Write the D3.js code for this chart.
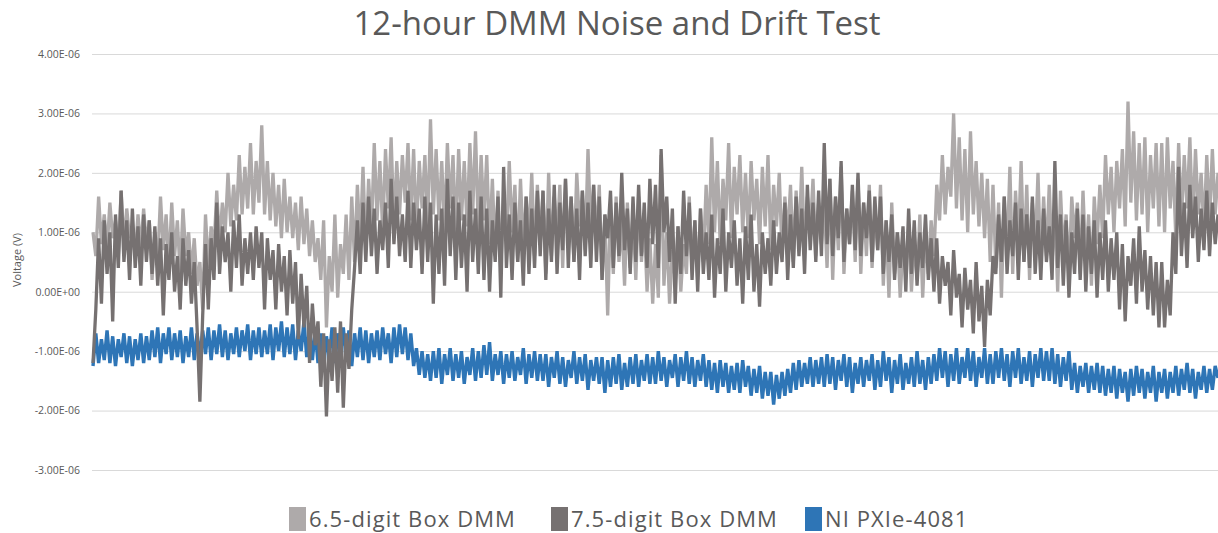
<!DOCTYPE html>
<html>
<head>
<meta charset="utf-8">
<script src="https://cdn.jsdelivr.net/npm/d3@7"></script>
<style>
  body { margin: 0; background: #fff; }
  text { font-family: "Open Sans", "DejaVu Sans", sans-serif; }
</style>
</head>
<body>
<div id="chart"></div>
<script>
// series names and colours
var seriesNames = ["6.5-digit Box DMM", "7.5-digit Box DMM", "NI PXIe-4081"];
var seriesColors = ["#aeaaaa", "#767171", "#2e75b6"];

// y axis ticks
var yTicks = [-3e-6, -2e-6, -1e-6, 0, 1e-6, 2e-6, 3e-6, 4e-6];
var yTickLabels = ["-3.00E-06", "-2.00E-06", "-1.00E-06", "0.00E+00", "1.00E-06", "2.00E-06", "3.00E-06", "4.00E-06"];

// readings in microvolts, evenly spaced over the 12 hours
var box65 = [
  1.0,0.6,1.6,0.8,1.3,0.7,1.5,0.9,1.2,0.6,1.7,0.8,1.4,0.9,1.1,0.6,1.3,0.7,1.4,0.8,
  1.2,0.2,1.0,0.5,1.6,0.7,1.3,0.4,1.5,0.6,1.2,0.3,1.4,0.6,1.0,0.3,0.9,0.1,0.5,-0.3,
  1.3,0.4,1.1,0.7,1.7,0.8,1.5,1.0,2.0,1.1,1.8,1.2,2.3,1.3,2.1,1.4,2.5,1.3,2.2,1.5,
  2.8,1.3,2.2,1.2,2.0,1.1,1.8,0.9,1.9,1.0,1.6,0.9,1.5,0.7,1.6,0.8,1.4,0.6,1.2,0.5,
  0.9,0.2,1.2,-0.6,0.6,0.0,1.3,-0.1,0.8,0.3,1.3,0.2,1.6,0.5,1.8,0.8,2.1,0.7,1.9,1.0,
  2.5,1.2,2.2,1.0,2.4,1.4,2.6,1.1,2.2,1.3,2.3,1.5,2.5,1.2,2.4,1.0,2.2,1.4,2.3,1.1,
  2.9,1.3,2.4,1.2,2.2,1.0,2.5,1.4,2.3,0.9,2.4,1.2,2.2,1.1,2.5,1.3,2.7,1.0,2.3,1.2,
  2.3,0.8,1.9,0.6,1.7,0.4,1.6,0.9,2.2,1.0,1.8,0.5,1.9,0.7,1.6,0.9,2.0,0.6,1.8,0.8,
  1.7,0.3,2.0,0.6,1.6,0.9,1.8,0.4,1.9,0.8,1.6,0.5,2.0,1.1,1.7,0.7,2.4,1.0,1.8,0.9,
  1.8,0.2,1.3,-0.4,1.4,0.3,1.6,0.5,1.2,0.1,1.5,0.4,1.3,0.2,1.6,0.5,1.2,0.0,0.9,-0.2,
  0.8,-0.1,2.3,0.1,1.0,-0.2,0.7,0.2,1.1,0.0,0.8,0.3,1.6,0.4,1.2,0.2,1.4,0.5,1.8,0.8,
  2.6,1.0,2.2,0.8,1.9,1.2,2.5,0.9,2.1,1.3,2.3,1.0,2.0,0.9,2.2,1.2,1.9,0.8,2.1,1.1,
  2.3,0.7,1.8,1.1,2.0,0.6,1.6,0.9,1.8,0.5,1.7,0.8,2.1,0.7,1.6,1.0,1.9,0.6,1.5,0.8,
  1.5,0.4,1.9,0.2,1.6,0.7,2.1,0.3,1.4,0.8,1.7,0.5,1.9,0.3,1.5,0.6,1.8,0.4,1.4,0.7,
  1.8,0.1,1.2,-0.1,1.5,0.3,1.0,-0.1,0.8,0.4,1.1,0.0,0.9,0.2,1.3,-0.1,1.0,0.3,1.2,0.6,
  1.8,1.2,2.3,1.3,2.1,1.6,3.0,1.4,2.6,1.2,2.4,1.0,2.7,1.3,2.2,1.1,2.0,0.9,1.9,0.5,
  1.8,0.4,1.5,-0.1,1.6,0.6,2.1,0.3,1.7,0.8,2.2,0.5,1.8,0.2,1.5,0.7,2.0,0.4,1.6,0.6,
  1.8,0.5,1.4,0.0,1.7,0.6,1.3,0.2,1.6,0.9,1.5,0.3,1.7,0.5,1.3,0.1,1.6,0.8,1.8,0.9,
  2.3,1.3,2.1,1.0,2.2,1.4,2.4,1.1,3.2,1.5,2.7,1.2,2.5,1.3,2.6,1.0,2.3,1.4,2.5,1.1,
  2.5,1.0,2.6,1.4,2.2,0.9,2.5,1.2,2.3,1.4,2.6,1.1,2.4,1.3,2.0,1.0,2.3,1.2,2.4,1.3,2.0
];
var box75 = [
  -1.2,-0.3,0.9,-0.2,1.2,0.3,1.0,-0.5,1.3,0.4,1.7,0.5,1.2,0.2,1.4,0.4,1.1,0.1,1.3,0.5,
  1.2,0.3,1.1,0.1,0.9,-0.4,0.8,0.2,1.0,0.0,0.6,-0.3,0.9,0.1,0.7,-0.2,0.5,-0.6,-1.85,-0.4,
  0.8,-0.3,0.9,0.2,1.5,0.3,1.1,0.5,1.0,0.0,1.2,0.4,1.3,0.1,0.9,0.3,1.0,0.2,1.1,0.4,
  1.0,-0.3,0.9,0.2,0.7,-0.3,0.8,0.0,0.6,-0.4,0.7,-0.2,0.5,-0.8,0.3,-0.6,0.1,-1.2,-0.2,-0.9,
  -0.5,-1.6,-0.7,-2.1,-0.8,-1.5,-0.6,-1.7,-0.5,-1.95,-0.7,-1.3,-0.3,0.4,1.2,0.3,1.5,0.5,1.6,0.6,
  1.4,0.3,1.2,0.7,1.5,0.4,1.9,0.8,1.6,0.6,1.3,0.5,1.7,0.4,1.5,0.7,1.4,0.3,1.6,0.5,
  1.5,-0.2,1.3,0.3,1.4,0.1,1.9,0.6,1.6,0.2,1.5,0.4,1.3,0.0,1.7,0.5,1.4,0.3,1.6,0.2,
  1.4,0.0,1.2,0.5,1.6,-0.1,2.1,0.4,1.3,0.2,1.5,0.5,1.2,0.1,1.6,0.3,1.4,0.4,1.7,0.6,
  1.7,0.2,1.4,0.5,1.8,0.3,1.5,0.7,1.9,0.4,1.6,0.5,1.4,0.2,1.7,0.6,1.5,0.4,1.8,0.5,
  1.6,0.2,1.3,0.9,1.7,0.4,1.5,0.6,2.0,0.7,1.4,0.3,1.6,0.5,1.8,0.6,1.5,0.4,1.9,0.8,
  1.8,0.4,2.4,1.0,1.6,0.5,1.4,-0.2,1.1,0.3,1.7,0.6,1.5,0.2,1.2,0.0,1.4,0.3,1.0,0.2,
  1.3,-0.1,0.9,0.3,1.4,0.0,1.0,0.4,1.2,0.1,0.9,-0.2,1.1,0.2,1.3,0.0,0.8,-0.25,1.0,0.3,
  0.9,0.1,1.2,0.3,1.0,0.5,1.5,0.2,1.3,0.4,1.6,0.6,1.4,0.3,1.8,0.7,1.5,0.5,1.7,0.6,
  2.5,0.8,1.9,0.6,1.6,0.9,2.2,0.5,1.4,0.8,1.8,0.7,2.0,0.6,1.5,0.9,1.7,0.5,1.6,0.7,
  1.6,0.3,1.2,0.5,1.3,0.2,1.0,0.4,1.1,0.0,1.4,0.3,1.2,0.1,1.0,0.4,1.3,0.2,0.9,0.0,
  0.9,-0.2,0.6,0.1,0.5,-0.4,0.7,-0.1,0.3,-0.6,0.4,-0.3,0.2,-0.7,0.5,-0.5,0.1,-0.93,0.2,-0.4,
  0.6,0.3,1.3,0.5,1.6,0.3,1.2,0.6,1.5,0.2,1.4,0.5,1.3,0.4,1.6,0.3,1.2,0.2,1.4,0.5,
  1.1,0.2,2.2,0.4,1.3,0.1,1.2,-0.1,1.0,0.3,1.4,0.2,1.3,0.0,1.1,0.3,1.2,-0.1,1.0,0.2,
  1.2,0.0,0.9,0.2,1.0,-0.3,0.8,-0.5,0.6,0.1,0.9,-0.2,1.1,0.0,0.7,-0.3,0.6,-0.4,0.5,-0.6,
  0.5,-0.6,0.2,-0.4,1.0,0.3,2.1,0.6,1.5,0.4,1.8,0.9,1.6,0.5,1.4,0.7,1.7,0.6,1.5,0.8,1.3
];
var pxie4081 = [
  -1.25,-0.7,-1.2,-0.8,-1.15,-0.65,-1.2,-0.75,-1.25,-0.8,-1.1,-0.7,-1.2,-0.75,-1.25,-0.8,-1.15,-0.7,-1.2,-0.75,
  -1.15,-0.65,-1.1,-0.6,-1.2,-0.7,-1.05,-0.6,-1.15,-0.7,-1.1,-0.65,-1.2,-0.75,-1.1,-0.6,-1.15,-0.7,-1.1,-0.65,
  -1.05,-0.6,-1.15,-0.65,-1.05,-0.55,-1.1,-0.65,-1.15,-0.7,-1.05,-0.6,-1.1,-0.65,-1.0,-0.55,-1.15,-0.65,-1.05,-0.6,
  -1.1,-0.65,-1.05,-0.55,-1.15,-0.6,-1.0,-0.5,-1.1,-0.6,-1.05,-0.55,-1.15,-0.65,-1.0,-0.5,-1.1,-0.6,-1.15,-0.65,
  -1.2,-0.7,-1.3,-0.75,-1.1,-0.6,-1.2,-0.7,-1.05,-0.6,-1.15,-0.65,-1.25,-0.7,-1.1,-0.6,-1.15,-0.65,-1.2,-0.7,
  -1.1,-0.65,-1.15,-0.6,-1.05,-0.7,-1.2,-0.6,-1.1,-0.55,-1.05,-0.6,-1.15,-0.7,-1.25,-0.95,-1.4,-1.0,-1.45,-1.05,
  -1.5,-1.0,-1.45,-0.95,-1.55,-1.05,-1.4,-0.95,-1.5,-1.05,-1.45,-1.0,-1.55,-1.1,-1.4,-0.95,-1.5,-1.0,-1.45,-0.9,
  -1.4,-0.85,-1.5,-1.05,-1.4,-1.0,-1.55,-1.05,-1.45,-1.0,-1.5,-1.1,-1.4,-0.95,-1.55,-1.05,-1.45,-1.0,-1.5,-1.05,
  -1.5,-1.05,-1.6,-1.1,-1.45,-1.0,-1.55,-1.1,-1.6,-1.15,-1.45,-1.0,-1.55,-1.1,-1.5,-1.05,-1.65,-1.15,-1.5,-1.1,
  -1.55,-1.1,-1.7,-1.15,-1.6,-1.1,-1.55,-1.05,-1.65,-1.2,-1.6,-1.1,-1.55,-1.05,-1.6,-1.15,-1.5,-1.05,-1.55,-1.1,
  -1.55,-1.0,-1.5,-1.1,-1.6,-1.15,-1.45,-1.05,-1.6,-1.1,-1.5,-1.0,-1.55,-1.1,-1.6,-1.15,-1.5,-1.05,-1.6,-1.15,
  -1.65,-1.2,-1.7,-1.15,-1.6,-1.2,-1.7,-1.25,-1.65,-1.2,-1.7,-1.15,-1.6,-1.25,-1.75,-1.3,-1.7,-1.25,-1.8,-1.35,
  -1.75,-1.35,-1.9,-1.4,-1.8,-1.35,-1.75,-1.3,-1.7,-1.2,-1.65,-1.15,-1.6,-1.2,-1.55,-1.1,-1.6,-1.15,-1.55,-1.1,
  -1.6,-1.05,-1.55,-1.1,-1.65,-1.15,-1.5,-1.05,-1.6,-1.1,-1.7,-1.2,-1.55,-1.1,-1.6,-1.15,-1.5,-1.05,-1.65,-1.15,
  -1.6,-1.0,-1.5,-1.1,-1.7,-1.15,-1.55,-1.05,-1.65,-1.2,-1.55,-1.1,-1.6,-1.0,-1.55,-1.15,-1.65,-1.1,-1.55,-1.05,
  -1.5,-0.95,-1.45,-1.0,-1.6,-1.05,-1.5,-0.95,-1.55,-1.1,-1.45,-0.95,-1.5,-1.0,-1.6,-1.1,-1.45,-0.95,-1.55,-1.05,
  -1.55,-1.0,-1.45,-0.95,-1.5,-1.05,-1.6,-1.0,-1.45,-0.95,-1.55,-1.1,-1.5,-1.0,-1.6,-1.05,-1.45,-0.95,-1.5,-1.0,
  -1.5,-0.95,-1.55,-1.05,-1.6,-1.1,-1.5,-1.0,-1.65,-1.2,-1.7,-1.25,-1.6,-1.2,-1.7,-1.25,-1.65,-1.2,-1.7,-1.25,
  -1.75,-1.3,-1.7,-1.25,-1.8,-1.3,-1.7,-1.35,-1.85,-1.3,-1.75,-1.25,-1.7,-1.3,-1.8,-1.35,-1.7,-1.25,-1.85,-1.35,
  -1.7,-1.3,-1.8,-1.35,-1.7,-1.25,-1.75,-1.3,-1.65,-1.2,-1.7,-1.3,-1.8,-1.35,-1.65,-1.25,-1.7,-1.3,-1.65,-1.25,-1.45
];

var width = 1218, height = 533;
var margin = {top: 54, right: 0, bottom: 63, left: 92};

var svg = d3.select("#chart").append("svg")
    .attr("width", width)
    .attr("height", height);

var x = d3.scaleLinear()
    .domain([0, box65.length - 1])
    .range([margin.left + 1, width]);

var y = d3.scaleLinear()
    .domain([-3e-6, 4e-6])
    .range([height - margin.bottom, margin.top]);

// title
svg.append("text")
    .attr("x", 617)
    .attr("y", 35)
    .attr("text-anchor", "middle")
    .style("font-size", "33px")
    .style("fill", "#595959")
    .text("12-hour DMM Noise and Drift Test");

// gridlines + tick labels
var yAxis = svg.append("g")
    .attr("transform", "translate(" + margin.left + ",0)")
    .call(d3.axisLeft(y)
        .tickValues(yTicks)
        .tickSize(-(width - margin.left))
        .tickPadding(12)
        .tickFormat(function(d, i) { return yTickLabels[i]; }));

yAxis.select(".domain").remove();
yAxis.selectAll(".tick line").style("stroke", "#d9d9d9");
yAxis.selectAll(".tick text")
    .style("fill", "#595959")
    .style("font-size", "10.5px")
    .style("font-family", "'Open Sans', sans-serif");

// y label
svg.append("text")
    .attr("transform", "translate(21," + 260 + ") rotate(-90)")
    .attr("text-anchor", "middle")
    .style("font-size", "11px")
    .style("fill", "#595959")
    .text("Voltage (V)");

var line = d3.line()
    .x(function(d, i) { return x(i); })
    .y(function(d) { return y(d * 1e-6); });

// draw order: NI first, the box DMMs on top
var series = [
  {name: seriesNames[2], values: pxie4081, color: seriesColors[2], w: 3.4},
  {name: seriesNames[0], values: box65, color: seriesColors[0], w: 3.3},
  {name: seriesNames[1], values: box75, color: seriesColors[1], w: 3.3}
];

svg.append("g")
  .selectAll("path")
  .data(series)
  .enter()
  .append("path")
    .attr("d", function(d) { return line(d.values); })
    .style("fill", "none")
    .style("stroke", function(d) { return d.color; })
    .style("stroke-width", function(d) { return d.w; })
    .style("stroke-linejoin", "miter")
    .style("stroke-miterlimit", 2);

// legend
var legendX = [289, 551, 805];
var legend = svg.append("g")
  .selectAll("g")
  .data(seriesNames)
  .enter()
  .append("g")
    .attr("transform", function(d, i) { return "translate(" + legendX[i] + ",507)"; });

legend.append("rect")
    .attr("width", 17)
    .attr("height", 24)
    .style("fill", function(d, i) { return seriesColors[i]; });

legend.append("text")
    .attr("x", 20)
    .attr("y", 12)
    .attr("dy", "0.35em")
    .style("font-size", "22px")
    .style("letter-spacing", "1.1px")
    .style("fill", "#595959")
    .text(function(d) { return d; });
</script>
</body>
</html>
